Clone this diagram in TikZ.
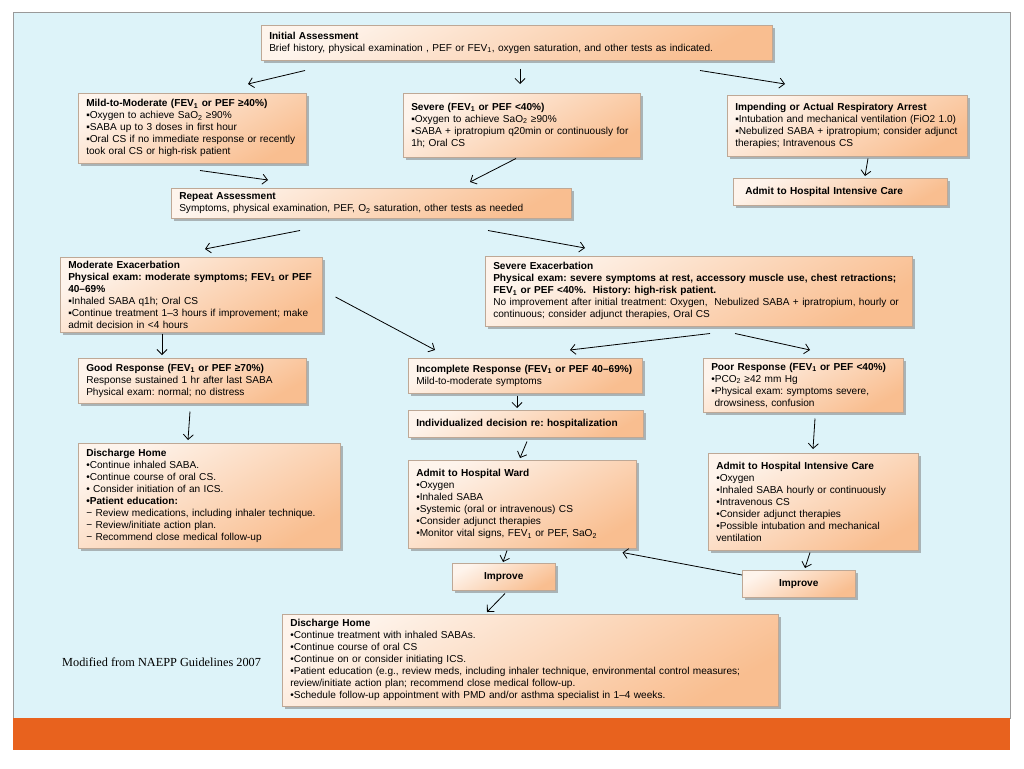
\documentclass[tikz,border=0pt]{standalone}
\usepackage{fontspec}
\setmainfont{Liberation Sans}
\newfontfamily\notefont{Liberation Serif}
\usetikzlibrary{arrows.meta}
\usetikzlibrary{shadows}
\frenchspacing

\definecolor{slideBlue}{RGB}{221,243,249}
\definecolor{slideOrange}{RGB}{232,98,30}
\definecolor{boxTop}{RGB}{254,244,236}
\definecolor{boxBottom}{RGB}{249,190,144}
\definecolor{boxEdge}{RGB}{190,168,150}

\tikzset{
	careBox/.style = {draw = boxEdge, line width = 0.5pt, top color = boxTop, bottom color = boxBottom, shading angle = 30, anchor = north west, align = left, inner xsep = 8pt, inner ysep = 2pt, font = \fontsize{10.1}{12}\selectfont, drop shadow = {shadow xshift = 3pt, shadow yshift = -3pt, fill = black!50, opacity = 0.55}},
	flowArrow/.style = {-{Straight Barb[length = 5pt, width = 10pt]}, line width = 0.8pt},
}

\begin{document}
\begin{tikzpicture}[x = 1pt, y = -1pt]

	% slide background
	\useasboundingbox (0,0) rectangle (1024,768);
	\fill [white] (0,0) rectangle (1024,768);
	\fill [slideBlue, draw = black!40, line width = 0.4pt] (13,12) rectangle (1010,718);
	\fill [slideOrange] (13,718) rectangle (1010,750);

	% first row
	\node [careBox, text width = 495pt, minimum height = 35pt] (init) at (261,25) {\textbf{Initial Assessment}\\Brief history, physical examination , PEF or FEV\textsubscript{1}, oxygen saturation, and other tests as indicated.};

	\node [careBox, text width = 212pt, minimum height = 70pt] (mild) at (78,93) {\textbf{Mild-to-Moderate (FEV\textsubscript{1} or PEF ≥40\%)}\\▪Oxygen to achieve SaO\textsubscript{2} ≥90\%\\▪SABA up to 3 doses in first hour\\▪Oral CS if no immediate response or recently\\took oral CS or high-risk patient};
	\node [careBox, text width = 221pt, minimum height = 64pt] (severe) at (403,93) {\textbf{Severe (FEV\textsubscript{1} or PEF <40\%)}\\▪Oxygen to achieve SaO\textsubscript{2} ≥90\%\\▪SABA + ipratropium q20min or continuously for\\1h; Oral CS};
	\node [careBox, text width = 224pt, minimum height = 61pt] (arrest) at (727,95) {\textbf{Impending or Actual Respiratory Arrest}\\▪Intubation and mechanical ventilation (FiO2 1.0)\\▪Nebulized SABA + ipratropium; consider adjunct\\therapies; Intravenous CS};
	\node [careBox, minimum height = 27pt, inner xsep = 12pt, text width = 190pt] (icuTop) at (733,178) {\textbf{Admit to Hospital Intensive Care}};

	% repeat assessment
	\node [careBox, text width = 384pt, minimum height = 30pt] (repeat) at (171,188) {\textbf{Repeat Assessment}\\Symptoms, physical examination, PEF, O\textsubscript{2} saturation, other tests as needed};

	% exacerbation
	\node [careBox, text width = 246pt, minimum height = 75pt] (modExac) at (60,257) {\textbf{Moderate Exacerbation}\\\textbf{Physical exam: moderate symptoms; FEV\textsubscript{1} or PEF}\\\textbf{40–69\%}\\▪Inhaled SABA q1h; Oral CS\\▪Continue treatment 1–3 hours if improvement; make\\admit decision in <4 hours};
	\node [careBox, text width = 411pt, minimum height = 70pt] (sevExac) at (485,256) {\textbf{Severe Exacerbation}\\\textbf{Physical exam: severe symptoms at rest, accessory muscle use, chest retractions;}\\\textbf{FEV\textsubscript{1} or PEF <40\%.\ \ History: high-risk patient.}\\No improvement after initial treatment: Oxygen,\ \ Nebulized SABA + ipratropium, hourly or\\continuous; consider adjunct therapies, Oral CS};

	% response
	\node [careBox, text width = 212pt, minimum height = 45pt] (good) at (78,358) {\textbf{Good Response (FEV\textsubscript{1} or PEF ≥70\%)}\\Response sustained 1 hr after last SABA\\Physical exam: normal; no distress};
	\node [careBox, text width = 218pt, minimum height = 35pt] (incomplete) at (408,358) {\textbf{Incomplete Response (FEV\textsubscript{1} or PEF 40–69\%)}\\Mild-to-moderate symptoms};
	\node [careBox, text width = 219pt, minimum height = 27pt] (indiv) at (408,410) {\textbf{Individualized decision re: hospitalization}};
	\node [careBox, text width = 184pt, minimum height = 54pt] (poor) at (703,358) {\textbf{Poor Response (FEV\textsubscript{1} or PEF <40\%)}\\•PCO\textsubscript{2} ≥42 mm Hg\\•Physical exam: symptoms severe,\\\ drowsiness, confusion};

	% disposition
	\node [careBox, text width = 246pt, minimum height = 105pt] (dischargeL) at (78,443) {\textbf{Discharge Home}\\•Continue inhaled SABA.\\•Continue course of oral CS.\\• Consider initiation of an ICS.\\\textbf{•Patient education:}\\− Review medications, including inhaler technique.\\− Review/initiate action plan.\\− Recommend close medical follow-up};
	\node [careBox, text width = 212pt, minimum height = 88pt] (ward) at (408,460) {\textbf{Admit to Hospital Ward}\\•Oxygen\\•Inhaled SABA\\•Systemic (oral or intravenous) CS\\•Consider adjunct therapies\\•Monitor vital signs, FEV\textsubscript{1} or PEF, SaO\textsubscript{2}};
	\node [careBox, text width = 194pt, minimum height = 97pt] (icuR) at (708,453) {\textbf{Admit to Hospital Intensive Care}\\•Oxygen\\•Inhaled SABA hourly or continuously\\•Intravenous CS\\•Consider adjunct therapies\\•Possible intubation and mechanical\\ventilation};

	% improve
	\node [careBox, align = center, text width = 87pt, minimum height = 27pt] (improveL) at (452,563) {\textbf{Improve}};
	\node [careBox, align = center, text width = 97pt, minimum height = 27pt] (improveR) at (742,570) {\textbf{Improve}};

	% final discharge
	\node [careBox, text width = 480pt, minimum height = 92pt] (dischargeB) at (282,614) {\textbf{Discharge Home}\\•Continue treatment with inhaled SABAs.\\•Continue course of oral CS\\•Continue on or consider initiating ICS.\\•Patient education (e.g., review meds, including inhaler technique, environmental control measures;\\review/initiate action plan; recommend close medical follow-up.\\•Schedule follow-up appointment with PMD and/or asthma specialist in 1–4 weeks.};

	\node [anchor = base west, inner sep = 0pt, font = \notefont\fontsize{12.3}{14}\selectfont] (source) at (62,666) {Modified from NAEPP Guidelines 2007};

	% arrows
	\draw [flowArrow] ([xshift = 44pt, yshift = -10pt]init.south west) -- ([xshift = 170pt, yshift = 9pt]mild.north west);
	\draw [flowArrow] ([xshift = 259pt, yshift = -8pt]init.south west) -- ([xshift = 117pt, yshift = 9pt]severe.north west);
	\draw [flowArrow] ([xshift = 439pt, yshift = -10pt]init.south west) -- ([xshift = 58pt, yshift = 11pt]arrest.north west);
	\draw [flowArrow] ([xshift = 122pt, yshift = -7pt]mild.south west) -- ([xshift = 97pt, yshift = 8pt]repeat.north west);
	\draw [flowArrow] ([xshift = 113pt, yshift = -1pt]severe.south west) -- ([xshift = 299pt, yshift = 6pt]repeat.north west);
	\draw [flowArrow] ([xshift = 141pt, yshift = -2pt]arrest.south west) -- ([xshift = 132pt, yshift = 2pt]icuTop.north west);
	\draw [flowArrow] ([xshift = 129pt, yshift = -12pt]repeat.south west) -- ([xshift = 145pt, yshift = 8pt]modExac.north west);
	\draw [flowArrow] ([xshift = 317pt, yshift = -12pt]repeat.south west) -- ([xshift = 100pt, yshift = 8pt]sevExac.north west);
	\draw [flowArrow] ([xshift = 102pt, yshift = -1pt]modExac.south west) -- ([xshift = 84pt, yshift = 3pt]good.north west);
	\draw [flowArrow] ([xshift = 13pt, yshift = -40pt]modExac.north east) -- ([xshift = 27pt, yshift = 8pt]incomplete.north west);
	\draw [flowArrow] ([xshift = 225pt, yshift = -7pt]sevExac.south west) -- ([xshift = 162pt, yshift = 8pt]incomplete.north west);
	\draw [flowArrow] ([xshift = 250pt, yshift = -7pt]sevExac.south west) -- ([xshift = 107pt, yshift = 8pt]poor.north west);
	\draw [flowArrow] ([xshift = 112pt, yshift = -8pt]good.south west) -- ([xshift = 110pt, yshift = 3pt]dischargeL.north west);
	\draw [flowArrow] ([xshift = 109pt, yshift = -2pt]incomplete.south west) -- ([xshift = 109pt, yshift = 2pt]indiv.north west);
	\draw [flowArrow] ([xshift = 119pt, yshift = -4pt]indiv.south west) -- ([xshift = 112pt, yshift = 2pt]ward.north west);
	\draw [flowArrow] ([xshift = 112pt, yshift = -6pt]poor.south west) -- ([xshift = 105pt, yshift = 4pt]icuR.north west);
	\draw [flowArrow] ([xshift = 99pt, yshift = -2pt]ward.south west) -- ([xshift = 51pt, yshift = 1pt]improveL.north west);
	\draw [flowArrow] ([xshift = 102pt, yshift = -2pt]icuR.south west) -- ([xshift = 63pt, yshift = 2pt]improveR.north west);
	\draw [flowArrow] ([yshift = -5pt]improveR.north west) -- ([xshift = -14pt, yshift = -4pt]ward.south east);
	\draw [flowArrow] ([xshift = 53pt, yshift = -3pt]improveL.south west) -- ([xshift = 205pt, yshift = 2pt]dischargeB.north west);

\end{tikzpicture}
\end{document}
